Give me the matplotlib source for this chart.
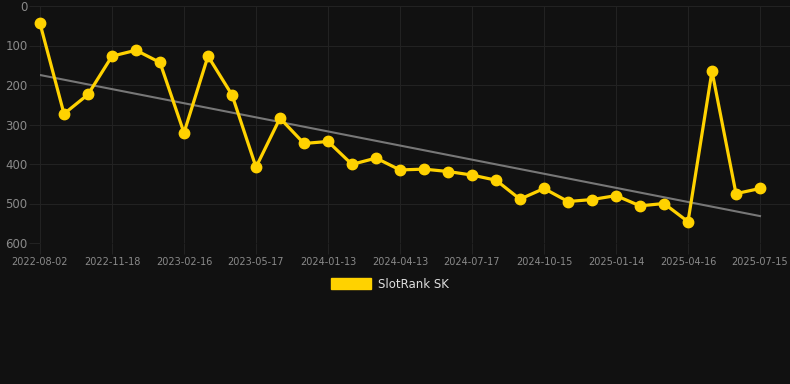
import numpy as np
import matplotlib
matplotlib.use("Agg")
import matplotlib.pyplot as plt
from matplotlib.patches import Patch

ranks = [44, 273, 224, 127, 112, 143, 321, 127, 225, 408,
         284, 348, 343, 401, 385, 415, 413, 419, 428, 441,
         489, 462, 495, 490, 480, 506, 500, 546, 165, 475, 462]
tick_labels = ["2022-08-02", "2022-11-18", "2023-02-16", "2023-05-17",
               "2024-01-13", "2024-04-13", "2024-07-17", "2024-10-15",
               "2025-01-14", "2025-04-16", "2025-07-15"]
series_name = "SlotRank SK"
y_ticks = [0, 100, 200, 300, 400, 500, 600]

W, H = 790, 384
fig = plt.figure(figsize=(W / 100, H / 100), dpi=100)
fig.patch.set_facecolor("#111111")
L, R, T, B = 40, 790, 6, 243
ax = fig.add_axes([L / W, 1 - B / H, (R - L) / W, (B - T) / H])
ax.set_facecolor("#111111")

x = np.arange(len(ranks))
step = 3
ax.set_xlim(0, (R - L) / 24)
ax.set_ylim(600, 0)

grid_c = "#222222"
ax.set_xticks(x[::step])
ax.set_xticklabels(tick_labels)
ax.set_yticks(y_ticks)
ax.grid(True, color=grid_c, linewidth=0.8)
ax.tick_params(axis="both", colors=grid_c, length=8, width=0.8)
ax.tick_params(axis="x", labelcolor="#8a8a8a", labelsize=7, pad=2)
ax.tick_params(axis="y", labelcolor="#8a8a8a", labelsize=8.5, pad=1)
for s in ax.spines.values():
    s.set_visible(False)

# trend line (linear regression)
coef = np.polyfit(x, ranks, 1)
ax.plot(x, np.polyval(coef, x), color="#777777", linewidth=1.5, zorder=2)

ax.plot(x, ranks, color="#FFD200", linewidth=2.3, marker="o", markersize=7.5,
        markerfacecolor="#FFD200", markeredgecolor="#FFD200", zorder=3,
        clip_on=False)

handle = Patch(facecolor="#FFD200", edgecolor="#FFD200")
leg = fig.legend([handle], [series_name], loc="center", bbox_to_anchor=(390 / W, 1 - 284 / H),
                 frameon=False, fontsize=8.5, handlelength=3.4, handleheight=1.0,
                 handletextpad=0.6, labelcolor="#dddddd")

fig.savefig("out.png", dpi=100, facecolor=fig.get_facecolor())
